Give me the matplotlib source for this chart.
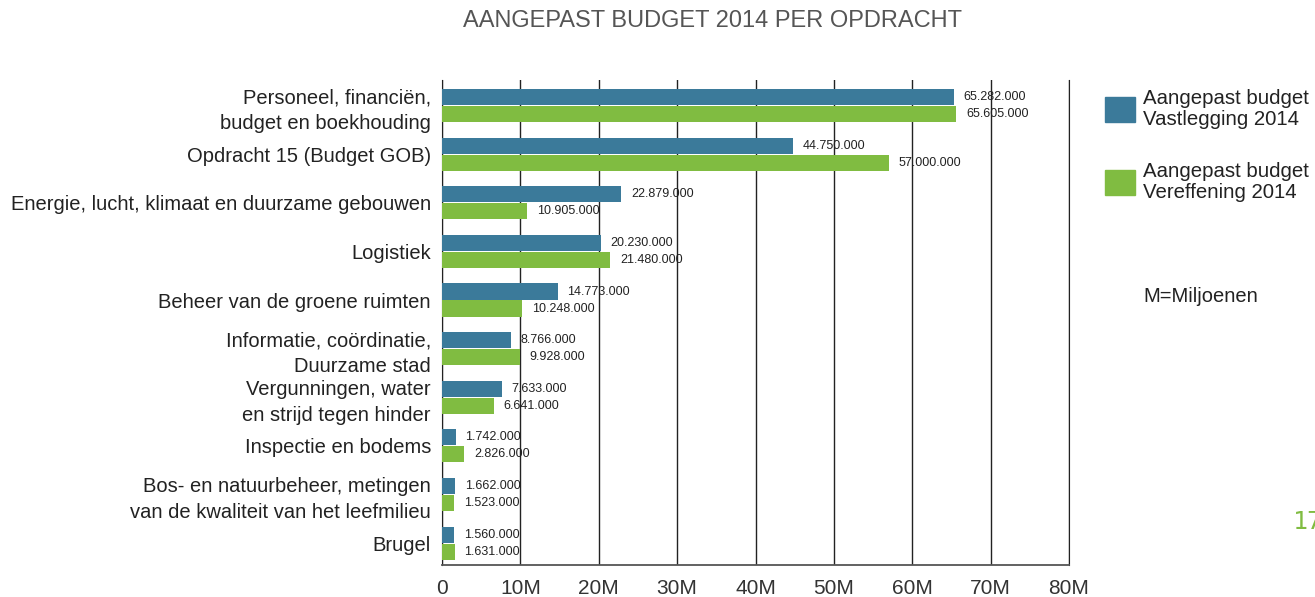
import matplotlib.pyplot as plt
import numpy as np

# --- Data ---
categories = [
    'Personeel, financiën,\nbudget en boekhouding',
    'Opdracht 15 (Budget GOB)',
    'Energie, lucht, klimaat en duurzame gebouwen',
    'Logistiek',
    'Beheer van de groene ruimten',
    'Informatie, coördinatie,\nDuurzame stad',
    'Vergunningen, water\nen strijd tegen hinder',
    'Inspectie en bodems',
    'Bos- en natuurbeheer, metingen\nvan de kwaliteit van het leefmilieu',
    'Brugel',
]
vastlegging = [65282000, 44750000, 22879000, 20230000, 14773000,
               8766000, 7633000, 1742000, 1662000, 1560000]
vereffening = [65605000, 57000000, 10905000, 21480000, 10248000,
               9928000, 6641000, 2826000, 1523000, 1631000]
tick_values = [0, 10e6, 20e6, 30e6, 40e6, 50e6, 60e6, 70e6, 80e6]
tick_labels = ['0', '10M', '20M', '30M', '40M', '50M', '60M', '70M', '80M']
legend_labels = ['Aangepast budget\nVastlegging 2014', 'Aangepast budget\nVereffening 2014']

BLUE = '#3b7a9a'
GREEN = '#80bc41'
TEXT = '#222222'

plt.rcParams['font.family'] = ['Liberation Sans', 'DejaVu Sans']

fig = plt.figure(figsize=(13.15, 5.97), dpi=100)
ax = fig.add_axes([442 / 1315, 32 / 597, 627 / 1315, 485 / 597])

y = np.arange(len(categories))
h = 0.33
ax.barh(y - 0.175, vastlegging, height=h, color=BLUE, zorder=3)
ax.barh(y + 0.175, vereffening, height=h, color=GREEN, zorder=3)


def fmt(v):
    return f'{v:,}'.replace(',', '.')


for yi, v in zip(y - 0.175, vastlegging):
    ax.annotate(fmt(v), (v, yi), xytext=(7, 0), textcoords='offset points',
                va='center', ha='left', fontsize=9, color=TEXT, zorder=4)
for yi, v in zip(y + 0.175, vereffening):
    ax.annotate(fmt(v), (v, yi), xytext=(7, 0), textcoords='offset points',
                va='center', ha='left', fontsize=9, color=TEXT, zorder=4)

ax.set_xlim(0, 80e6)
ax.set_ylim(9.45, -0.525)
ax.set_xticks(tick_values)
ax.set_xticklabels(tick_labels, fontsize=15, color='#333333')
ax.set_yticks(y)
ax.set_yticklabels(categories, fontsize=14.5, color=TEXT, linespacing=1.45)
ax.tick_params(axis='both', length=0)
ax.tick_params(axis='x', pad=10)
ax.tick_params(axis='y', pad=8)

ax.grid(axis='x', color='#222222', linewidth=1, zorder=0)
ax.grid(axis='y', visible=False)
ax.spines['top'].set_visible(False)
ax.spines['right'].set_color('#222222')
ax.spines['left'].set_color('#222222')
ax.spines['bottom'].set_color('#555555')
ax.spines['bottom'].set_linewidth(1.3)

fig.text(712 / 1315, 1 - 21 / 597, 'AANGEPAST BUDGET 2014 PER OPDRACHT',
         ha='center', va='center', fontsize=17, color='#555555')

# legend drawn by hand on the right
for i, (lab, col) in enumerate(zip(legend_labels, [BLUE, GREEN])):
    ytop = 97 + i * 73
    fig.patches.append(plt.Rectangle((1105 / 1315, 1 - (ytop + 25) / 597), 30 / 1315, 25 / 597,
                                     transform=fig.transFigure, color=col))
    fig.text(1143 / 1315, 1 - (ytop + 12) / 597, lab, ha='left', va='center',
             fontsize=14.7, color=TEXT, linespacing=1.15)

fig.text(1143 / 1315, 1 - 297 / 597, 'M=Miljoenen', ha='left', va='center',
         fontsize=14.5, color=TEXT)
fig.text(1293 / 1315, 1 - 522 / 597, '17', ha='left', va='center',
         fontsize=18, color=GREEN, family='DejaVu Sans Mono')

fig.savefig('out.png', dpi=100)
